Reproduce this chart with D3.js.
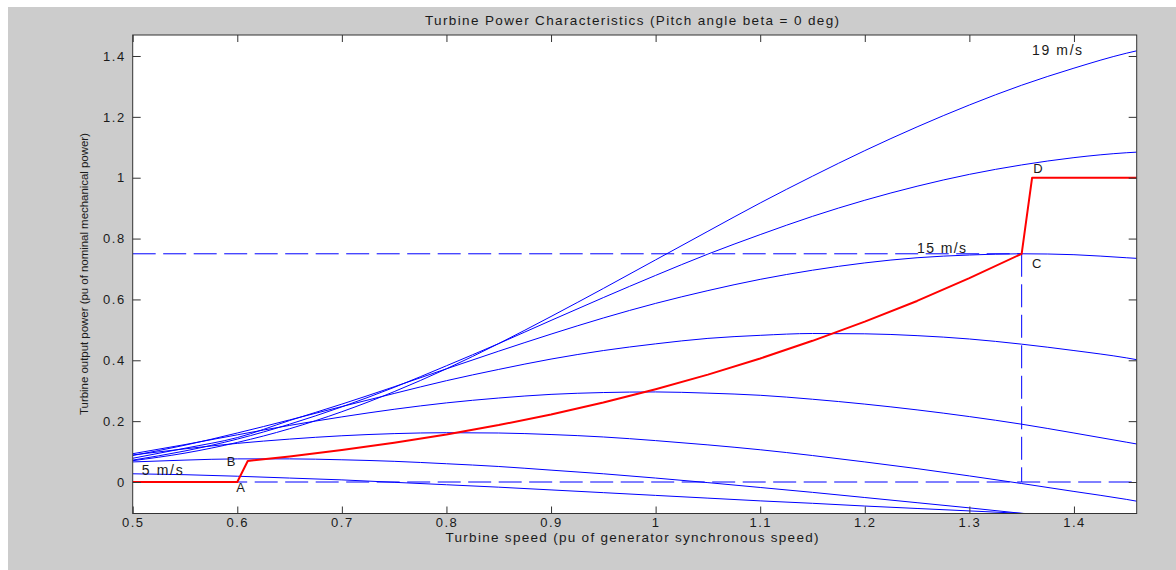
<!DOCTYPE html>
<html>
<head>
<meta charset="utf-8">
<script src="https://cdn.jsdelivr.net/npm/d3@7"></script>
<style>
  html, body { margin: 0; padding: 0; background: #ffffff; }
  svg { display: block; }
  text { font-family: "Liberation Sans", Arial, Helvetica, sans-serif; fill: #1a1a1a; }
</style>
</head>
<body>
<svg id="chart" width="1176" height="570"></svg>
<script>
// ---------------- data ----------------
const speeds = [0.50, 0.55, 0.60, 0.65, 0.70, 0.75, 0.80, 0.85, 0.90, 0.95, 1.00,
                1.05, 1.10, 1.15, 1.20, 1.25, 1.30, 1.35, 1.40, 1.45, 1.46];

const wind5  = [0.027, 0.024, 0.019, 0.013, 0.007, -0.001, -0.009, -0.017, -0.026, -0.035, -0.044,
                -0.053, -0.062, -0.070, -0.079, -0.087, -0.095, -0.103, -0.111, -0.119, -0.121];
const wind7  = [0.066, 0.072, 0.076, 0.076, 0.073, 0.068, 0.060, 0.051, 0.039, 0.027, 0.013,
                -0.002, -0.018, -0.034, -0.051, -0.068, -0.085, -0.103, -0.120, -0.138, -0.141];
const wind9  = [0.089, 0.109, 0.127, 0.141, 0.152, 0.159, 0.162, 0.161, 0.156, 0.148, 0.136,
                0.122, 0.106, 0.087, 0.066, 0.044, 0.020, -0.005, -0.031, -0.057, -0.063];
const wind11 = [0.093, 0.123, 0.155, 0.186, 0.214, 0.239, 0.260, 0.276, 0.288, 0.294, 0.296,
                0.292, 0.285, 0.272, 0.256, 0.237, 0.215, 0.190, 0.161, 0.131, 0.125];
const wind13 = [0.087, 0.121, 0.161, 0.204, 0.248, 0.291, 0.333, 0.370, 0.404, 0.432, 0.454,
                0.472, 0.482, 0.488, 0.487, 0.481, 0.470, 0.453, 0.432, 0.408, 0.402];
const wind15 = [0.078, 0.111, 0.146, 0.202, 0.256, 0.313, 0.372, 0.430, 0.486, 0.539, 0.587,
                0.629, 0.666, 0.696, 0.720, 0.737, 0.746, 0.750, 0.747, 0.737, 0.735];
const wind17 = [0.072, 0.102, 0.141, 0.190, 0.247, 0.311, 0.382, 0.455, 0.531, 0.606, 0.679,
                0.749, 0.813, 0.873, 0.926, 0.972, 1.011, 1.042, 1.066, 1.082, 1.084];
const wind19 = [0.070, 0.095, 0.130, 0.175, 0.231, 0.297, 0.372, 0.455, 0.544, 0.636, 0.730,
                0.824, 0.917, 1.005, 1.089, 1.167, 1.239, 1.304, 1.360, 1.409, 1.417];

// red tracking characteristic A-B-C-D
const trackSpeed = [0.50, 0.60, 0.61, 0.65, 0.70, 0.75, 0.80, 0.85, 0.90, 0.95, 1.00,
                    1.05, 1.10, 1.15, 1.20, 1.25, 1.30, 1.35, 1.36, 1.46];
const trackPower = [0, 0, 0.069, 0.084, 0.105, 0.129, 0.156, 0.187, 0.222, 0.261, 0.305,
                    0.353, 0.406, 0.464, 0.527, 0.595, 0.670, 0.750, 1.000, 1.000];

// dashed reference lines: [[speed, power], [speed, power]]
const dashedLines = [
  [[0.50, 0.75], [1.35, 0.75]],
  [[1.35, 0.75], [1.35, 0.00]],
  [[0.50, 0.00], [1.46, 0.00]]
];

const xTicks = [0.5, 0.6, 0.7, 0.8, 0.9, 1.0, 1.1, 1.2, 1.3, 1.4];
const xTickLabels = ["0.5", "0.6", "0.7", "0.8", "0.9", "1", "1.1", "1.2", "1.3", "1.4"];
const yTicks = [0, 0.2, 0.4, 0.6, 0.8, 1.0, 1.2, 1.4];
const yTickLabels = ["0", "0.2", "0.4", "0.6", "0.8", "1", "1.2", "1.4"];

const windLabels = ["5 m/s", "15 m/s", "19 m/s"];
const pointLabels = ["A", "B", "C", "D"];

const titleText = "Turbine Power Characteristics (Pitch angle beta = 0 deg)";
const xLabelText = "Turbine speed (pu of generator synchronous speed)";
const yLabelText = "Turbine output power (pu of nominal mechanical power)";

// ---------------- drawing ----------------
const svg = d3.select("#chart");

// figure background (white strip at top/left, grey window)
svg.append("rect").attr("x", 0).attr("y", 0).attr("width", 1176).attr("height", 570).attr("fill", "#ffffff");
svg.append("rect").attr("x", 8).attr("y", 7).attr("width", 1168).attr("height", 563).attr("fill", "#cccccc");

const L = 132.7, R = 1136.7, T = 35, B = 513.5;
const x = d3.scaleLinear().domain([0.5, 1.46]).range([L, R]);
const y = d3.scaleLinear().domain([-0.1035, 1.469]).range([B, T]);

svg.append("rect").attr("x", L).attr("y", T).attr("width", R - L).attr("height", B - T).attr("fill", "#ffffff");

svg.append("defs").append("clipPath").attr("id", "plotclip")
  .append("rect").attr("x", L).attr("y", T).attr("width", R - L).attr("height", B - T);

const plot = svg.append("g").attr("clip-path", "url(#plotclip)");

const windSeries = [wind5, wind7, wind9, wind11, wind13, wind15, wind17, wind19];
const curveLine = d3.line()
  .x((d, i) => x(speeds[i]))
  .y(d => y(d))
  .curve(d3.curveMonotoneX);

plot.selectAll("path.wind").data(windSeries).join("path")
  .attr("class", "wind")
  .attr("d", d => curveLine(d))
  .attr("fill", "none")
  .attr("stroke", "#0000ff")
  .attr("stroke-width", 1);

plot.selectAll("line.dash").data(dashedLines).join("line")
  .attr("class", "dash")
  .attr("x1", d => x(d[0][0])).attr("y1", d => y(d[0][1]))
  .attr("x2", d => x(d[1][0])).attr("y2", d => y(d[1][1]))
  .attr("stroke", "#0000ff")
  .attr("stroke-width", 1)
  .attr("stroke-dasharray", "23,7.5");

const trackLine = d3.line()
  .x((d, i) => x(trackSpeed[i]))
  .y(d => y(d));
plot.append("path")
  .attr("d", trackLine(trackPower))
  .attr("fill", "none")
  .attr("stroke", "#ff0000")
  .attr("stroke-width", 2)
  .attr("stroke-linejoin", "round");

// axes (MATLAB box style, ticks inward)
const axisColor = "#333333";
const gx = svg.append("g").attr("transform", `translate(0,${B})`)
  .call(d3.axisBottom(x).tickValues(xTicks).tickFormat((d, i) => xTickLabels[i])
        .tickSizeInner(-7).tickSizeOuter(0).tickPadding(4));
const gy = svg.append("g").attr("transform", `translate(${L},0)`)
  .call(d3.axisLeft(y).tickValues(yTicks).tickFormat((d, i) => yTickLabels[i])
        .tickSizeInner(-8).tickSizeOuter(0).tickPadding(7));
const gt = svg.append("g").attr("transform", `translate(0,${T})`)
  .call(d3.axisTop(x).tickValues(xTicks).tickFormat("").tickSizeInner(-7).tickSizeOuter(0));
const gr = svg.append("g").attr("transform", `translate(${R},0)`)
  .call(d3.axisRight(y).tickValues(yTicks).tickFormat("").tickSizeInner(-8).tickSizeOuter(0));

[gx, gy, gt, gr].forEach(g => {
  g.select(".domain").remove();
  g.selectAll(".tick line").attr("stroke", axisColor);
  g.selectAll(".tick text")
    .style("font-family", '"Liberation Sans", Arial, sans-serif')
    .style("font-size", "13px")
    .style("letter-spacing", "1.5px")
    .attr("fill", "#1a1a1a");
});
svg.append("rect").attr("x", L).attr("y", T).attr("width", R - L).attr("height", B - T)
  .attr("fill", "none").attr("stroke", axisColor).attr("stroke-width", 1);

// text helper with fixed visual width
function fitText(sel, w) {
  sel.attr("textLength", w).attr("lengthAdjust", "spacing");
  return sel;
}

// title and axis labels
fitText(svg.append("text").attr("x", 632).attr("y", 25).attr("text-anchor", "middle")
  .style("font-size", "13.5px").text(titleText), 414);
fitText(svg.append("text").attr("x", 632).attr("y", 542).attr("text-anchor", "middle")
  .style("font-size", "13.5px").text(xLabelText), 373);
fitText(svg.append("text").attr("transform", "translate(88,274) rotate(-90)").attr("text-anchor", "middle")
  .style("font-size", "11.5px").text(yLabelText), 282);

// wind-speed labels (start-anchored)
const windLabelPos = [[0.5086, 0.022, 41], [1.250, 0.754, 49], [1.360, 1.403, 50]];
windLabels.forEach((t, i) => {
  const p = windLabelPos[i];
  fitText(svg.append("text").attr("x", x(p[0])).attr("y", y(p[1]))
    .style("font-size", "14px").text(t), p[2]);
});

// operating points
const pointLabelPos = [[0.599, -0.033], [0.590, 0.0536], [1.360, 0.704], [1.361, 1.0145]];
pointLabels.forEach((t, i) => {
  const p = pointLabelPos[i];
  svg.append("text").attr("x", x(p[0])).attr("y", y(p[1]))
    .style("font-size", "13px").text(t);
});
</script>
</body>
</html>
